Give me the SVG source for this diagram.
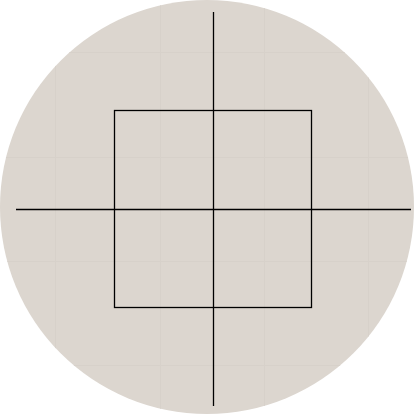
<svg xmlns="http://www.w3.org/2000/svg" width="414" height="414" viewBox="0 0 414 414">
<style>
.grid{stroke:#d7d1ca;stroke-width:1;fill:none}
.ax{stroke:#000;stroke-width:1.3;fill:none}
</style>
<defs><clipPath id="c"><circle cx="207" cy="207" r="207"/></clipPath></defs>
<rect width="414" height="414" fill="#fff"/>
<g id="disc">
<circle cx="207" cy="207" r="207" fill="#dcd6cf"/>
<g class="grid" clip-path="url(#c)">
<path d="M55.5 0V414M160.5 0V414M264.5 0V414M368.5 0V414M0 52.5H414M0 157.5H414M0 261.5H414M0 365.5H414"/>
</g>
</g>
<g id="square"><rect class="ax" x="114.5" y="110.5" width="197" height="197"/></g>
<g id="axes">
<line class="ax" x1="213.5" y1="12" x2="213.5" y2="406"/>
<line class="ax" x1="16" y1="209.5" x2="411" y2="209.5"/>
</g>
</svg>
